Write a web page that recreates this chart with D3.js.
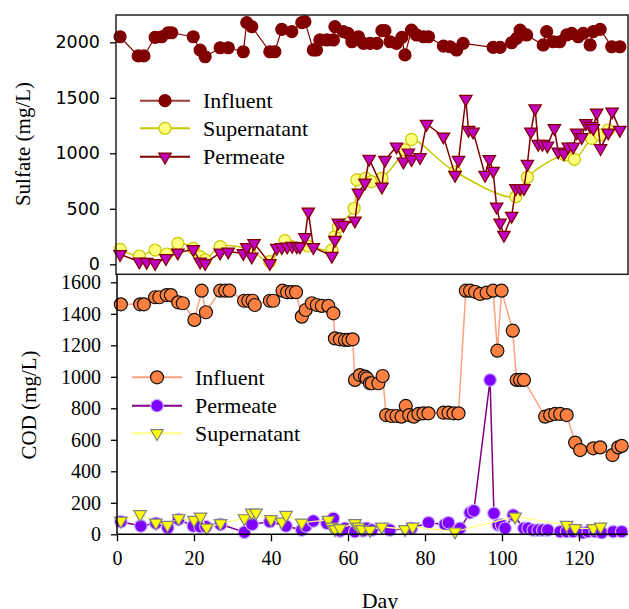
<!DOCTYPE html>
<html>
<head>
<meta charset="utf-8">
<script src="https://cdn.jsdelivr.net/npm/d3@7"></script>
<style>
  body { margin: 0; background: #fff; }
  svg { display: block; }
</style>
</head>
<body>
<div id="graph"></div>
<script>
// ---- data (day, mg/L) ----
// sulfate
const sulf_inf_day = [0.8,5.5,7,9.9,11.6,13.3,14.2,19.8,21.6,22.9,26.8,28.9,32.8,33.7,35,39.7,41,42.8,45.4,48,48.8,51,51.8,52.7,54.5,56.2,56.6,58.8,60,61,62.7,64,65.7,67.5,68.8,69.6,70.9,72.6,74,74.8,76.5,77.8,79.6,80.9,84.8,86.5,88.2,89.9,97.7,99.5,102.5,103.8,104.7,106.4,110.7,111.6,113.3,115,116.8,118.1,119.8,121.1,122.9,123.7,125.5,128.5,130.6];
const sulf_inf_val = [2050,1877,1877,2045,2050,2086,2086,2050,1930,1870,1951,1951,1915,2177,2141,1915,1915,2117,2096,2177,2186,1931,1931,2021,2021,2021,2141,2096,2081,2005,2050,1991,1991,1991,2105,2105,2005,1991,2045,1886,2110,2066,2050,2050,1966,1960,1931,1991,1955,1955,1996,2036,2110,2066,1976,2096,2005,2005,2066,2081,2050,2081,1976,2096,2117,1960,1960];

const sulf_sup_day = [0.8,5.8,9.9,12.9,15.8,19.8,21.6,22.9,26.8,34.5,39.7,43.6,49.6,55.8,56.6,57.5,61.6,62.3,64.6,66.1,68.8,74.8,76.5,87.8,103.6,106.6,116.4,118.8,123.3,125.5,127.6];
const sulf_sup_val = [135,75,129,93,189,144,69,39,159,129,24,213,165,129,249,339,505,760,775,745,775,1030,1126,834,609,784,985,946,1135,1165,1210];

const sulf_perm_day = [0.8,5.8,7.7,9.9,12.7,15.8,19.8,21.6,22.9,26.8,28.9,32.8,33.7,35,35.6,39.7,41.5,42.8,44.2,45.5,46.7,47.5,48.8,49.7,51,55.8,56.6,57.5,58.8,61.8,62.7,64.4,65.5,68.8,69.6,72.6,74.4,75.7,76.5,78.7,80.4,84.8,87.8,88.7,90.6,91.3,92.5,95.6,96.7,97.7,98.6,99.5,100.5,102.5,103.6,104.7,105.7,106.6,107.5,108.6,109.4,110.5,111.8,113.6,114.6,116.1,117.2,118.5,119.4,120.7,121.8,122.9,123.7,124.6,125.6,127.6,128.6,130.6];
const sulf_perm_val = [90,24,20,9,54,105,135,24,9,105,114,99,153,69,189,9,147,153,159,165,160,159,243,474,153,75,219,375,354,393,645,735,950,699,940,1060,925,1006,946,964,1264,1150,805,940,1489,1210,1195,805,946,840,519,375,264,435,685,685,685,904,1195,1405,1084,1084,1069,1225,1015,1000,1060,1060,1186,1145,1270,1246,1225,1366,1045,1186,1375,1210];

// COD
const cod_inf_day = [1,6,7,9.9,11,12.9,14,15.9,17.1,20.1,22,23.1,26.8,28.1,29.2,33,34.1,35.2,35.8,39.7,40.6,43,44.2,45.4,46.5,48,49,50.6,51.9,53.2,54.9,56.2,56.6,57.9,59.2,60.1,61.2,61.8,63.1,64.4,64.9,65.7,66.2,67.9,69,69.9,71.3,72.6,73.9,75,75.9,77.1,78.3,79.6,80.9,84.8,86.1,87.4,88.7,90.6,91.7,93,94.3,96,97.7,98.8,99.9,102.8,103.8,104.7,105.7,111.2,112.5,113.8,115.1,116.8,119,120.3,123.7,125.5,128.7,130.2,131.1];
const cod_inf_val = [1460,1460,1460,1505,1505,1519,1519,1473,1467,1361,1547,1410,1547,1547,1547,1483,1483,1483,1456,1483,1483,1547,1537,1537,1537,1382,1424,1467,1456,1450,1450,1403,1244,1238,1234,1234,1238,980,1011,1001,990,959,959,959,1005,757,751,751,747,815,757,747,764,768,768,772,772,768,768,1547,1547,1540,1526,1534,1547,1166,1547,1293,980,980,980,747,757,764,764,757,582,535,546,552,503,552,561];

const cod_perm_day = [1,6.2,10.1,13.2,16,19.8,21.6,23.1,26.9,33.1,35.1,39.7,43.9,48,49.1,51,54.5,56.2,57.9,59.2,61.8,64,64.9,66.2,70.9,76.5,80.9,85.2,86.1,89.1,91.7,92.7,96.9,97.9,99,99.9,100.8,102.9,105.7,106.8,108.1,109.4,110.6,111.9,115.1,116.8,118.5,121,122.4,124.2,125.9,128.9,131.1];
const cod_perm_val = [80,53,70,42,95,53,48,48,63,13,63,80,53,27,53,84,70,101,21,38,17,23,38,27,27,38,74,63,74,38,137,150,980,133,59,59,38,122,38,38,27,27,27,27,17,17,17,10,17,17,10,17,17];

const cod_sup_day = [1,6,10.1,13.1,16,20,21.7,23.3,26.9,33.1,35,36.1,40,42.8,43.9,48,54.9,55.8,56.6,57.9,61.8,62.7,63.6,65.7,68.8,74.8,76.8,87.8,103.4,116.8,119,123.7,125.6];
const cod_sup_val = [86,127,74,59,101,91,112,42,70,101,137,137,95,80,122,74,91,48,32,38,70,48,32,27,48,32,48,17,112,59,38,38,48];

const day_ticks = [0,20,40,60,80,100,120];
const sulf_ticks = [0,500,1000,1500,2000];
const cod_ticks = [0,200,400,600,800,1000,1200,1400,1600];

function pairs(days, vals) {
  return days.map((d, i) => ({day: d, val: vals[i]}));
}

// ---- layout ----
const width = 629, height = 609;
const left = 116, right = 628;
const top_frame = 15, split = 274.3, base = 534.3;

const x = d3.scaleLinear().domain([0, 120]).range([117, 579]);
const y_sulf = d3.scaleLinear().domain([0, 2000]).range([264.3, 42.3]);
const y_cod = d3.scaleLinear().domain([0, 1600]).range([base, 282.3]);

const serif = "'Liberation Serif', 'Times New Roman', serif";

const svg = d3.select('#graph')
  .append('svg')
  .attr('width', width)
  .attr('height', height);

const tri = d3.symbol(d3.symbolTriangle, 68);

function draw_series(g, data, y, o) {
  const line = d3.line()
    .x(d => x(d.day))
    .y(d => y(d.val))
    .curve(o.curve || d3.curveLinear);
  g.append('path')
    .datum(data)
    .attr('d', line)
    .attr('fill', 'none')
    .attr('stroke', o.line)
    .attr('stroke-width', o.lw || 1.3);
  draw_marks(g, data.map(d => [x(d.day), y(d.val)]), o);
}

function draw_marks(g, pts, o) {
  if (o.shape === 'tri') {
    g.selectAll(null).data(pts).enter().append('path')
      .attr('d', tri)
      .attr('transform', p => `translate(${p[0]},${p[1]}) rotate(180)`)
      .attr('fill', o.fill)
      .attr('stroke', o.stroke)
      .attr('stroke-width', 1.2);
  } else {
    g.selectAll(null).data(pts).enter().append('circle')
      .attr('cx', p => p[0])
      .attr('cy', p => p[1])
      .attr('r', o.r || 6)
      .attr('fill', o.fill)
      .attr('stroke', o.stroke)
      .attr('stroke-width', 1.2);
  }
}

function legend(g, items, lx, rows) {
  items.forEach((it, i) => {
    const row = g.append('g');
    row.append('line')
      .attr('x1', lx).attr('x2', lx + 50)
      .attr('y1', rows[i]).attr('y2', rows[i])
      .attr('stroke', it.line).attr('stroke-width', 2);
    draw_marks(row, [[lx + 25, rows[i]]], it);
    row.append('text')
      .attr('x', lx + 63).attr('y', rows[i])
      .attr('dy', '0.35em')
      .style('font-family', serif)
      .style('font-size', '22px')
      .text(it.name);
  });
}

// ---- sulfate panel ----
const s_inf = {name: 'Influent', line: '#9a3a3a', fill: '#800000', stroke: '#800000', r: 6};
const s_sup = {name: 'Supernatant', line: '#c8c800', fill: '#ffff80', stroke: '#c8c800', r: 6, curve: d3.curveCatmullRom};
const s_perm = {name: 'Permeate', line: '#800000', fill: '#c000c0', stroke: '#800000', shape: 'tri'};

const g_top = svg.append('g');
draw_series(g_top, pairs(sulf_inf_day, sulf_inf_val), y_sulf, Object.assign({}, s_inf, {line: '#800000', lw: 1.2}));
draw_series(g_top, pairs(sulf_sup_day, sulf_sup_val), y_sulf, Object.assign({}, s_sup, {lw: 1.5}));
draw_series(g_top, pairs(sulf_perm_day, sulf_perm_val), y_sulf, Object.assign({}, s_perm, {lw: 1.5}));

g_top.append('rect')
  .attr('x', left).attr('y', top_frame)
  .attr('width', right - left).attr('height', split - top_frame)
  .attr('fill', 'none').attr('stroke', '#222').attr('stroke-width', 1.5);

const ax_sulf = g_top.append('g')
  .attr('transform', `translate(${left},0)`)
  .call(d3.axisLeft(y_sulf).tickValues(sulf_ticks).tickSize(6).tickPadding(10).tickFormat(d3.format('d')));
ax_sulf.select('.domain').remove();
ax_sulf.selectAll('line').attr('stroke', '#000').attr('stroke-width', 1.3);
ax_sulf.selectAll('text')
  .style('font-family', "'DejaVu Sans', sans-serif")
  .style('font-size', '17.5px')
  .attr('fill', '#000');

legend(g_top, [s_inf, s_sup, s_perm], 140, [100.7, 128.3, 156.7]);

g_top.append('text')
  .attr('transform', 'translate(30,144) rotate(-90)')
  .attr('text-anchor', 'middle')
  .style('font-family', serif)
  .style('font-size', '21px')
  .text('Sulfate (mg/L)');

// ---- COD panel ----
const c_inf = {name: 'Influent', line: '#ffa080', fill: '#ff8040', stroke: '#111', r: 6.5};
const c_perm = {name: 'Permeate', line: '#800080', fill: '#8000ff', stroke: '#c8b4ff', r: 6.3};
const c_sup = {name: 'Supernatant', line: '#ffff80', fill: '#ffff00', stroke: '#808080', shape: 'tri'};

const g_bot = svg.append('g');
draw_series(g_bot, pairs(cod_inf_day, cod_inf_val), y_cod, Object.assign({}, c_inf, {lw: 1.5}));
draw_series(g_bot, pairs(cod_perm_day, cod_perm_val), y_cod, Object.assign({}, c_perm, {lw: 1.5}));
draw_series(g_bot, pairs(cod_sup_day, cod_sup_val), y_cod, Object.assign({}, c_sup, {lw: 1.3}));

const ax_cod = g_bot.append('g')
  .attr('transform', `translate(117,0)`)
  .call(d3.axisLeft(y_cod).tickValues(cod_ticks).tickSize(6).tickPadding(10).tickFormat(d3.format('d')));
ax_cod.select('.domain').remove();
ax_cod.selectAll('line').attr('stroke', '#000').attr('stroke-width', 1.3);
ax_cod.selectAll('text')
  .style('font-family', serif)
  .style('font-size', '20px')
  .attr('fill', '#000');

g_bot.append('line')
  .attr('x1', 117).attr('x2', 117)
  .attr('y1', split).attr('y2', base)
  .attr('stroke', '#000').attr('stroke-width', 1.5);

const ax_day = g_bot.append('g')
  .attr('transform', `translate(0,${base})`)
  .call(d3.axisBottom(x).tickValues(day_ticks).tickSize(7).tickPadding(10));
ax_day.select('.domain').remove();
ax_day.selectAll('line').attr('stroke', '#000').attr('stroke-width', 1.3);
ax_day.selectAll('text')
  .style('font-family', serif)
  .style('font-size', '20px')
  .attr('fill', '#000');

g_bot.append('line')
  .attr('x1', 117).attr('x2', right)
  .attr('y1', base).attr('y2', base)
  .attr('stroke', '#000').attr('stroke-width', 1.5);

legend(g_bot, [c_inf, c_perm, c_sup], 132, [377.3, 405.7, 433.3]);

g_bot.append('text')
  .attr('transform', 'translate(35.5,405) rotate(-90)')
  .attr('text-anchor', 'middle')
  .style('font-family', serif)
  .style('font-size', '21px')
  .text('COD (mg/L)');

g_bot.append('text')
  .attr('x', 380).attr('y', 608)
  .attr('text-anchor', 'middle')
  .style('font-family', serif)
  .style('font-size', '22px')
  .text('Day');
</script>
</body>
</html>
